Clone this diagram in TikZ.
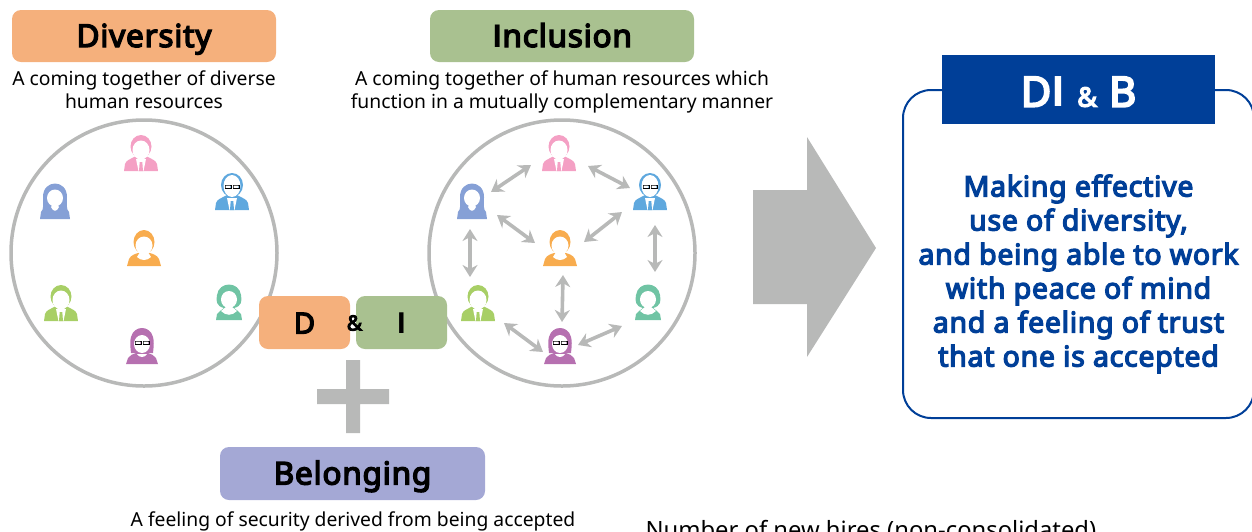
\documentclass[tikz,border=0pt]{standalone}
\usepackage{fontspec}
\setmainfont{Noto Sans}[BoldFont={Noto Sans},BoldFeatures={FakeBold=4.5,LetterSpace=2.5}]
\newfontfamily\capfont{Open Sans}
\newcommand\capI{{\capfont I}}
\usetikzlibrary{arrows.meta}
\definecolor{dOrange}{HTML}{F5B07C}
\definecolor{iGreen}{HTML}{A9C190}
\definecolor{bViolet}{HTML}{A4A8D5}
\definecolor{diBlue}{HTML}{003F98}
\definecolor{ringGray}{HTML}{B8B9B8}
\definecolor{pPink}{HTML}{F4A0C4}
\definecolor{pBlue}{HTML}{5FA8DE}
\definecolor{pOrange}{HTML}{F8AC4E}
\definecolor{pPeri}{HTML}{86A0D6}
\definecolor{pGreen}{HTML}{A8CF66}
\definecolor{pTeal}{HTML}{70C4A4}
\definecolor{pPurple}{HTML}{B670B0}
\tikzset{
	title/.style={rounded corners=9pt, font=\fontsize{31.5}{36}\bfseries\selectfont, text=black, inner sep=0pt, text height=22pt, text depth=0pt},
	caption/.style={align=center, font=\fontsize{19.3}{23}\selectfont},
	ring/.style={draw=ringGray, line width=3.5pt},
	person/.style={inner sep=0pt, minimum width=34pt, minimum height=36pt},
	link/.style={ringGray, line width=3.6pt, {Stealth[length=12pt,width=15pt]}-{Stealth[length=12pt,width=15pt]}},
	% shoulders, then a tie on white
	man/.pic={
		\path[pic actions] (-17,18) -- (-16,11) .. controls (-15,7) and (-10,6) .. (-5,3) -- (5,3) .. controls (10,6) and (15,7) .. (16,11) -- (17,18) -- cycle;
		\path[pic actions] (0,-6.5) ellipse (10.5 and 11.5);
		\fill[white] (0,-3) ellipse (8.5 and 9.5);
		\fill[white] (-5,6) -- (5,6) -- (2.5,18) -- (-2.5,18) -- cycle;
		\path[pic actions] (-1.3,9) -- (1.3,9) -- (2,18) -- (-2,18) -- cycle;
	},
	oldman/.pic={
		\path[pic actions] (-17,18) -- (-16,11) .. controls (-15,7) and (-10,6) .. (-5,3) -- (5,3) .. controls (10,6) and (15,7) .. (16,11) -- (17,18) -- cycle;
		\path[pic actions] (0,-7) ellipse (11 and 12);
		\fill[white] (0,-6) ellipse (8.5 and 11);
		\fill[white] (-5,6) -- (5,6) -- (2.5,18) -- (-2.5,18) -- cycle;
		\path[pic actions] (-1.3,9) -- (1.3,9) -- (2,18) -- (-2,18) -- cycle;
		\draw[line width=.7pt, pic actions] (-7,-7) rectangle (-1,-3.5) (1,-7) rectangle (7,-3.5);
		\fill[white] (-6.4,-6.4) rectangle (-1.6,-4.1) (1.6,-6.4) rectangle (6.4,-4.1);
	},
	longhair/.pic={
		\path[pic actions] (-15,18) -- (-14,11) .. controls (-11,8) and (-12,4) .. (-12,-4) .. controls (-12,-22) and (12,-22) .. (12,-4) .. controls (12,4) and (11,8) .. (14,11) -- (15,18) -- cycle;
		\fill[white] (0,-3) ellipse (8 and 8.5);
		\fill[white] (-4,6) .. controls (-2,11) and (2,11) .. (4,6) -- (2,3) -- (-2,3) -- cycle;
	},
	shorthair/.pic={
		\path[pic actions] (-17,18) -- (-15,11) .. controls (-13,7) and (-9,6) .. (-6,5) -- (6,5) .. controls (9,6) and (13,7) .. (15,11) -- (17,18) -- cycle;
		\path[pic actions] (0,-6) ellipse (10.5 and 12);
		\fill[white] (0,-2.5) ellipse (8.5 and 9);
		\fill[white] (-7,9) .. controls (-3,13) and (3,13) .. (7,9) -- (4,4) -- (-4,4) -- cycle;
	},
	bobhair/.pic={
		\path[pic actions] (-13,18) -- (-12,12) .. controls (-10,9) and (-7,8) .. (-5,6) .. controls (-13,4) and (-13,-1) .. (-12,-7) .. controls (-10,-21) and (10,-21) .. (12,-7) .. controls (13,-1) and (13,4) .. (5,6) .. controls (7,8) and (10,9) .. (12,12) -- (13,18) -- cycle;
		\fill[white] (0,-2.5) ellipse (8 and 8.5);
		\fill[white] (-8,9) .. controls (-3,14) and (3,14) .. (8,9) -- (3,5) -- (-3,5) -- cycle;
	},
	glasshair/.pic={
		\path[pic actions] (-16,18) -- (-14,12) .. controls (-12,9) and (-9,8) .. (-6,7) -- (6,7) .. controls (9,8) and (12,9) .. (14,12) -- (16,18) -- cycle;
		\path[pic actions] (-11,7) .. controls (-12,-2) and (-12,-5) .. (-11,-9) .. controls (-8,-21) and (8,-21) .. (11,-9) .. controls (12,-5) and (12,-2) .. (11,7) -- cycle;
		\fill[white] (0,-2) ellipse (8 and 9);
		\fill[white] (-5,8) .. controls (-3,12) and (3,12) .. (5,8) -- cycle;
		\draw[line width=.7pt, pic actions] (-7,-5) rectangle (-1,-1.5) (1,-5) rectangle (7,-1.5);
		\fill[white] (-6.4,-4.4) rectangle (-1.6,-2.1) (1.6,-4.4) rectangle (6.4,-2.1);
	}
}
\newcommand\iconat[4]{
	\node[person] (#1) at (#2) {};
	\pic[fill=#3] at (#1.center) {#4};
}
\begin{document}
\begin{tikzpicture}[x=1pt,y=-1pt]
	\useasboundingbox (0,0) rectangle (1252,531);
	\clip (0,0) rectangle (1252,531);

	\node[title, fill=dOrange, minimum width=264pt, minimum height=52pt] (diversity) at (144,36) {Diversity};
	\node[title, fill=iGreen, minimum width=264pt, minimum height=52pt] (inclusion) at (562,36) {\capI nclusion};
	\node[caption] (diversityText) at (144,90) {A coming together of diverse\\human resources};
	\node[caption] (inclusionText) at (562,92) {A coming together of human resources which\\function in a mutually complementary manner};

	\node[circle, ring, minimum size=266pt, inner sep=0pt] (ringD) at (144,253) {};
	\node[circle, ring, minimum size=266pt, inner sep=0pt] (ringI) at (562,253) {};

	\iconat{pinkL}{141,153}{pPink}{man}
	\iconat{blueL}{232,192}{pBlue}{oldman}
	\iconat{orangeL}{144,248}{pOrange}{shorthair}
	\iconat{womanL}{55,201}{pPeri}{longhair}
	\iconat{greenL}{61,303}{pGreen}{man}
	\iconat{tealL}{229,302}{pTeal}{bobhair}
	\iconat{purpleL}{142,346}{pPurple}{glasshair}

	\iconat{pinkR}{559,153}{pPink}{man}
	\iconat{blueR}{650,192}{pBlue}{oldman}
	\iconat{orangeR}{560,248}{pOrange}{shorthair}
	\iconat{womanR}{472,201}{pPeri}{longhair}
	\iconat{greenR}{478,303}{pGreen}{man}
	\iconat{tealR}{648,302}{pTeal}{bobhair}
	\iconat{purpleR}{560,346}{pPurple}{glasshair}

	\foreach \a/\sa/\b/\sb in {
		womanR/{19,-9}/pinkR/{-28,12}, pinkR/{29,13}/blueR/{-20,-4},
		womanR/{25,14}/orangeR/{-25,-5}, blueR/{-28,20}/orangeR/{24,-6},
		womanR/{-2,28}/greenR/{-8,-26}, blueR/{5,33}/tealR/{7,-30},
		orangeR/{3,27}/purpleR/{2,-24}, greenR/{26,20}/purpleR/{-17,6},
		purpleR/{18,-1}/tealR/{-26,24}}
		\draw[link] ([shift={(\sa)}]\a.center) -- ([shift={(\sb)}]\b.center);

	\node[title, fill=dOrange, minimum width=91pt, minimum height=53pt, font=\fontsize{29}{34}\bfseries\selectfont] (boxD) at (304.5,322.5) {D};
	\node[title, fill=iGreen, minimum width=91pt, minimum height=53pt, font=\fontsize{29}{34}\bfseries\selectfont] (boxI) at (401.5,322.5) {\capI};
	\node[font=\fontsize{21}{24}\bfseries\selectfont] (amp) at (354.5,323) {\&};

	% plus sign
	\fill[ringGray] (346,360) rectangle (360,433) (317,389) rectangle (389,404);

	\node[title, fill=bViolet, minimum width=265pt, minimum height=53pt] (belonging) at (352.5,473.5) {Belonging};
	\node[caption] (belongingText) at (353,521) {A feeling of security derived from being accepted};

	% big arrow
	\fill[ringGray] (753,190) -- (807,190) -- (807,137) -- (876,248) -- (807,357) -- (807,304) -- (753,304) -- cycle;

	\draw[diBlue, line width=2pt, rounded corners=28pt] (903,90) rectangle (1254,418);
	\node[fill=diBlue, text=white, minimum width=273pt, minimum height=69pt, inner sep=0pt, text height=34.4pt, text depth=0pt, font=\fontsize{42}{48}\bfseries\selectfont] (header) at (1078.5,89.5) {D\capI{} {\fontsize{27}{30}\selectfont\&} B};
	\node[align=center, text=diBlue, font=\fontsize{28.5}{34}\bfseries\selectfont] (statement) at (1078.5,274) {Making effective\\use of diversity,\\and being able to work\\with peace of mind\\and a feeling of trust\\that one is accepted};

	\node[anchor=base west, font=\fontsize{23.8}{28}\selectfont] (hires) at (642,538) {Number of new hires (non-consolidated)};
\end{tikzpicture}
\end{document}
